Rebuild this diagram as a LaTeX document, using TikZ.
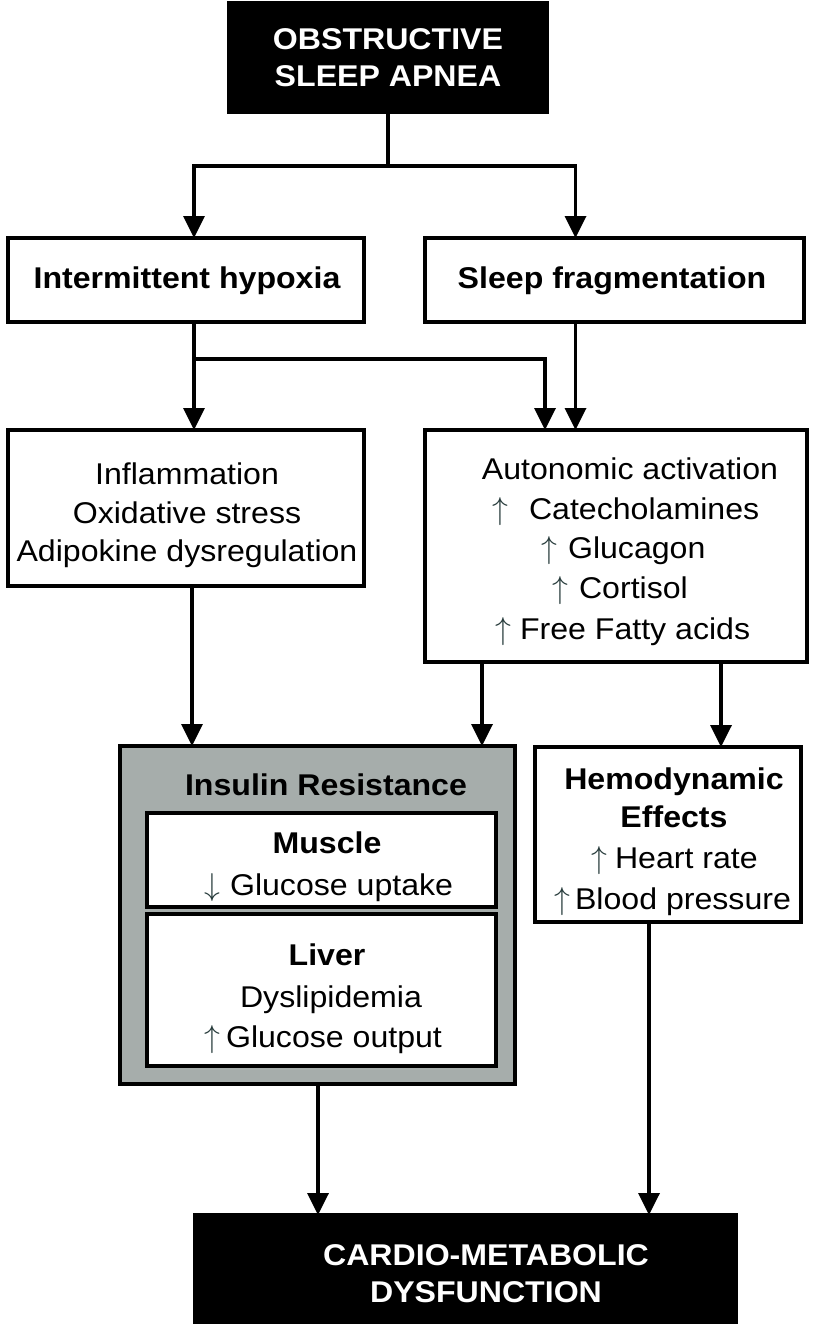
\documentclass[tikz,border=0pt]{standalone}
\usepackage{fontspec}
\usepackage{graphicx}
\setmainfont{Liberation Sans}[FakeStretch=1.07]
\usetikzlibrary{arrows.meta}
\definecolor{irgray}{RGB}{166,173,171}
\definecolor{arrcol}{RGB}{40,60,60}
\newcommand{\myup}{{\color{arrcol}\resizebox{!}{22pt}{$\uparrow$}}}
\newcommand{\mydn}{{\color{arrcol}\resizebox{!}{22pt}{$\downarrow$}}}
\begin{document}
\begin{tikzpicture}[x=1pt,y=-1pt,
  box/.style={draw=black, line width=3.5pt, fill=white, inner sep=0pt, outer sep=0pt, anchor=north west},
  blk/.style={box, fill=black},
  conn/.style={line width=3.5pt},
  arr/.style={conn, -{Triangle[length=22pt,width=21pt]}},
  t/.style={inner sep=0pt, anchor=base, font=\fontsize{30}{36}\selectfont},
  tb/.style={inner sep=0pt, anchor=base, font=\fontsize{30}{36}\selectfont\bfseries},
  tw/.style={tb, text=white},
  tl/.style={t, anchor=base west}]
\useasboundingbox (0,0) rectangle (814,1328);
\fill[white] (0,0) rectangle (814,1328);

% boxes
\node[blk, minimum width=318pt, minimum height=109pt] (osa) at (229,3) {};
\node[box, minimum width=356pt, minimum height=84pt] (ih) at (8,238) {};
\node[box, minimum width=379pt, minimum height=84pt] (sf) at (425,238) {};
\node[box, minimum width=356pt, minimum height=156pt] (infl) at (8,430) {};
\node[box, minimum width=382pt, minimum height=232pt] (auto) at (425,430) {};
\node[box, fill=irgray, minimum width=395pt, minimum height=338pt] (ir) at (120,746) {};
\node[box, minimum width=349pt, minimum height=94pt] (mus) at (147,813) {};
\node[box, minimum width=349pt, minimum height=152pt] (liv) at (147,914) {};
\node[box, minimum width=266pt, minimum height=175pt] (hemo) at (535,747) {};
\node[blk, minimum width=541pt, minimum height=107pt] (cmd) at (195,1215) {};

% connector anchor points
\coordinate (s1) at (388,166);
\coordinate (ihN) at ([xshift=8pt]ih.north);
\coordinate (sfN) at ([xshift=-39pt]sf.north);
\coordinate (ihS) at ([xshift=8pt]ih.south);
\coordinate (s2) at (194,359);
\coordinate (sfS) at ([xshift=-39pt]sf.south);
\coordinate (auN1) at ([xshift=-71pt]auto.north);
\coordinate (inS) at ([xshift=6pt]infl.south);
\coordinate (auS1) at ([xshift=-134pt]auto.south);
\coordinate (auS2) at ([xshift=105pt]auto.south);
\coordinate (irS) at ([xshift=0.5pt]ir.south);
\coordinate (heS) at ([xshift=-19pt]hemo.south);

% connectors
\draw[conn] (osa.south) -- (s1);
\draw[arr] (s1) -| (ihN);
\draw[arr] (s1) -| (sfN);
\draw[conn] (ihS) -- (s2);
\draw[arr] (s2) -- (s2 |- infl.north);
\draw[arr] (s2) -| (auN1);
\draw[arr] (sfS) -- (sfS |- auto.north);
\draw[arr] (inS) -- (inS |- ir.north);
\draw[arr] (auS1) -- (auS1 |- ir.north);
\draw[arr] (auS2) -- (auS2 |- hemo.north);
\draw[arr] (irS) -- (irS |- cmd.north);
\draw[arr] (heS) -- (heS |- cmd.north);

% texts
\node[tw] (osa1) at (388,49) {OBSTRUCTIVE};
\node[tw] (osa2) at (388,86) {SLEEP APNEA};
\node[tb] (iht) at (187,288) {Intermittent hypoxia};
\node[tb] (sft) at (612,288) {Sleep fragmentation};
\node[t] (in1) at (187,484) {Inflammation};
\node[t] (in2) at (187,523) {Oxidative stress};
\node[t] (in3) at (187,561) {Adipokine dysregulation};
\node[t] (au1) at (630,479) {Autonomic activation};
\node[tl] (au2) at (492,519) {\myup\hspace{21pt}Catecholamines};
\node[tl] (au3) at (541,558) {\myup\hspace{11pt}Glucagon};
\node[tl] (au4) at (552,598) {\myup\hspace{11pt}Cortisol};
\node[tl] (au5) at (495,639) {\myup\hspace{9pt}Free Fatty acids};
\node[tb] (irt) at (326,795) {Insulin Resistance};
\node[tb] (mut) at (327,853) {Muscle};
\node[tl] (mu2) at (204,895) {\mydn\hspace{10pt}Glucose uptake};
\node[tb] (lit) at (327,965) {Liver};
\node[t] (li2) at (331,1007) {Dyslipidemia};
\node[tl] (li3) at (204,1047) {\myup\hspace{6pt}Glucose output};
\node[tb] (he1) at (674,789) {Hemodynamic};
\node[tb] (he2) at (674,827) {Effects};
\node[tl] (he3) at (591,868) {\myup\hspace{8pt}Heart rate};
\node[tl] (he4) at (554,909) {\myup\hspace{5pt}Blood pressure};
\node[tw] (cm1) at (486,1265) {CARDIO-METABOLIC};
\node[tw] (cm2) at (486,1302) {DYSFUNCTION};
\end{tikzpicture}
\end{document}
